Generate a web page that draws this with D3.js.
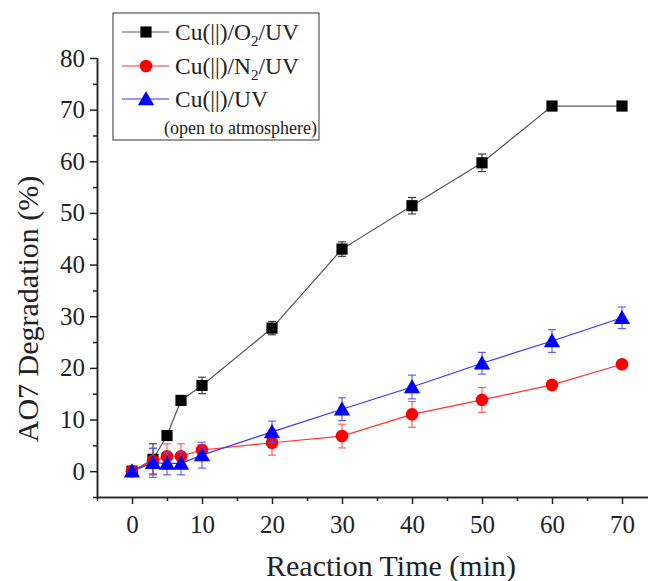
<!DOCTYPE html>
<html>
<head>
<meta charset="utf-8">
<script src="https://cdn.jsdelivr.net/npm/d3@7"></script>
<style>
  body { margin: 0; background: #fff; }
  svg text { font-family: "Liberation Serif", "DejaVu Serif", serif !important; }
</style>
</head>
<body>
<div id="chart"></div>
<script>
'use strict';

// reaction times (min)
const times = [0, 3, 5, 7, 10, 20, 30, 40, 50, 60, 70];

// AO7 degradation (%) per series
const o2Values  = [0, 2.3, 6.9, 13.7, 16.6, 27.7, 43.0, 51.4, 59.7, 70.7, 70.7];
const o2Errors  = [0, 3.0, 0.8, 0.8, 1.6, 1.3, 1.4, 1.6, 1.7, 0, 0];

const n2Values  = [0, 2.0, 2.9, 2.9, 4.1, 5.5, 6.8, 11.0, 13.8, 16.7, 20.7];
const n2Errors  = [0, 2.5, 2.4, 2.4, 1.0, 2.4, 2.3, 2.5, 2.4, 0, 0];

const uvValues  = [0, 1.6, 1.5, 1.5, 3.1, 7.6, 12.0, 16.3, 20.9, 25.2, 29.7];
const uvErrors  = [0, 2.8, 2.2, 2.2, 2.5, 2.1, 2.2, 2.3, 2.1, 2.2, 2.1];

const xTicks = [0, 10, 20, 30, 40, 50, 60, 70];
const yTicks = [0, 10, 20, 30, 40, 50, 60, 70, 80];

const series = [
    { name: 'O', sub: '2', values: o2Values, errors: o2Errors, line: '#555', err: '#333', fill: '#000', shape: 'square' },
    { name: 'N', sub: '2', values: n2Values, errors: n2Errors, line: '#f33', err: '#f55', fill: '#f00', shape: 'circle' },
    { name: null, sub: null, values: uvValues, errors: uvErrors, line: '#33f', err: '#55f', fill: '#00f', shape: 'triangle' }
];

const FONT = '"Liberation Serif", "DejaVu Serif", serif';
const width = 648;
const height = 581;

const svg = d3.select('#chart')
    .append('svg')
    .attr('width', width)
    .attr('height', height)
    .attr('font-family', FONT);

svg.append('rect').attr('width', width).attr('height', height).attr('fill', '#fff');

const xScale = d3.scaleLinear().domain([-5, 75]).range([97, 657]);
const yScale = d3.scaleLinear().domain([-5, 80]).range([497, 58]);

// axes
let xAxis = d3.axisBottom(xScale)
    .tickValues(xTicks)
    .tickSize(7)
    .tickPadding(11)
    .tickSizeOuter(0);

let xMinor = d3.axisBottom(xScale)
    .tickValues(d3.range(-5, 76, 10))
    .tickSize(4)
    .tickFormat('')
    .tickSizeOuter(0);

let yAxis = d3.axisLeft(yScale)
    .tickValues(yTicks)
    .tickSize(7)
    .tickPadding(5)
    .tickSizeOuter(0);

let yMinor = d3.axisLeft(yScale)
    .tickValues(d3.range(-5, 80, 10))
    .tickSize(4)
    .tickFormat('')
    .tickSizeOuter(0);

const axisLayer = svg.append('g').attr('class', 'axis');

axisLayer.append('g')
    .attr('transform', 'translate(0,' + yScale(-5) + ')')
    .call(xAxis);
axisLayer.append('g')
    .attr('transform', 'translate(0,' + yScale(-5) + ')')
    .call(xMinor);
axisLayer.append('g')
    .attr('transform', 'translate(' + xScale(-5) + ',0)')
    .call(yAxis);
axisLayer.append('g')
    .attr('transform', 'translate(' + xScale(-5) + ',0)')
    .call(yMinor);

axisLayer.selectAll('g').attr('font-family', FONT);
axisLayer.selectAll('path.domain').attr('stroke', '#222').attr('stroke-width', 1.5);
axisLayer.selectAll('.tick line').attr('stroke', '#222').attr('stroke-width', 1.5);
axisLayer.selectAll('.tick text')
    .attr('fill', '#222')
    .attr('font-size', 25);

// axis titles
svg.append('text')
    .attr('x', 391)
    .attr('y', 576)
    .attr('text-anchor', 'middle')
    .attr('fill', '#222')
    .attr('font-size', 30)
    .text('Reaction Time (min)');

svg.append('text')
    .attr('transform', 'translate(38,' + 309 + ') rotate(-90)')
    .attr('text-anchor', 'middle')
    .attr('fill', '#222')
    .attr('font-size', 30)
    .text('AO7 Degradation (%)');

// data
const dataLayer = svg.append('g').attr('class', 'data');

const line = d3.line()
    .x((d) => xScale(d.t))
    .y((d) => yScale(d.v));

const squareSym = d3.symbol().type(d3.symbolSquare).size(125);
const circleSym = d3.symbol().type(d3.symbolCircle).size(125);
const triSym = d3.symbol().type(d3.symbolTriangle).size(115);

function symbolFor(shape) {
    if (shape === 'square') return squareSym;
    if (shape === 'circle') return circleSym;
    return triSym;
}

series.forEach((s) => {
    let pts = times.map((t, i) => ({ t: t, v: s.values[i], e: s.errors[i] }));
    let g = dataLayer.append('g');

    g.append('path')
        .datum(pts)
        .attr('d', line)
        .attr('fill', 'none')
        .attr('stroke', s.line)
        .attr('stroke-width', 1.2);

    let errPts = pts.filter((d) => d.e > 0);
    let eb = g.selectAll('.err')
        .data(errPts)
        .enter()
        .append('g')
        .attr('class', 'err')
        .attr('stroke', s.err)
        .attr('stroke-width', 1.1);

    eb.append('line')
        .attr('x1', (d) => xScale(d.t)).attr('x2', (d) => xScale(d.t))
        .attr('y1', (d) => yScale(d.v - d.e)).attr('y2', (d) => yScale(d.v + d.e));
    eb.append('line')
        .attr('x1', (d) => xScale(d.t) - 4).attr('x2', (d) => xScale(d.t) + 4)
        .attr('y1', (d) => yScale(d.v + d.e)).attr('y2', (d) => yScale(d.v + d.e));
    eb.append('line')
        .attr('x1', (d) => xScale(d.t) - 4).attr('x2', (d) => xScale(d.t) + 4)
        .attr('y1', (d) => yScale(d.v - d.e)).attr('y2', (d) => yScale(d.v - d.e));

    g.selectAll('.mark')
        .data(pts)
        .enter()
        .append('path')
        .attr('class', 'mark')
        .attr('d', symbolFor(s.shape))
        .attr('transform', (d) => 'translate(' + xScale(d.t) + ',' + (yScale(d.v) + (s.shape === 'triangle' ? 1.5 : 0)) + ')')
        .attr('fill', s.fill);
});

// legend
const legend = svg.append('g').attr('class', 'legend');

legend.append('rect')
    .attr('x', 113).attr('y', 13)
    .attr('width', 206).attr('height', 127)
    .attr('fill', '#fff')
    .attr('stroke', '#555')
    .attr('stroke-width', 1.2);

const rowY = [32, 66, 99];

series.forEach((s, i) => {
    let y = rowY[i];
    legend.append('line')
        .attr('x1', 122).attr('x2', 169)
        .attr('y1', y).attr('y2', y)
        .attr('stroke', s.line)
        .attr('stroke-width', 1.2);
    legend.append('path')
        .attr('d', symbolFor(s.shape))
        .attr('transform', 'translate(146,' + (y + (s.shape === 'triangle' ? 1.5 : 0)) + ')')
        .attr('fill', s.fill);

    let txt = legend.append('text')
        .attr('x', 175)
        .attr('y', y + 8)
        .attr('fill', '#222')
        .attr('font-size', 23.5);
    txt.append('tspan').text('Cu(||)/');
    if (s.name) {
        txt.append('tspan').text(s.name);
        txt.append('tspan').attr('dy', 6).attr('font-size', 15).text(s.sub);
        txt.append('tspan').attr('dy', -6).text('/UV');
    } else {
        txt.append('tspan').text('UV');
    }
});

legend.append('text')
    .attr('x', 164)
    .attr('y', 134)
    .attr('fill', '#222')
    .attr('font-size', 18)
    .text('(open to atmosphere)');
</script>
</body>
</html>
